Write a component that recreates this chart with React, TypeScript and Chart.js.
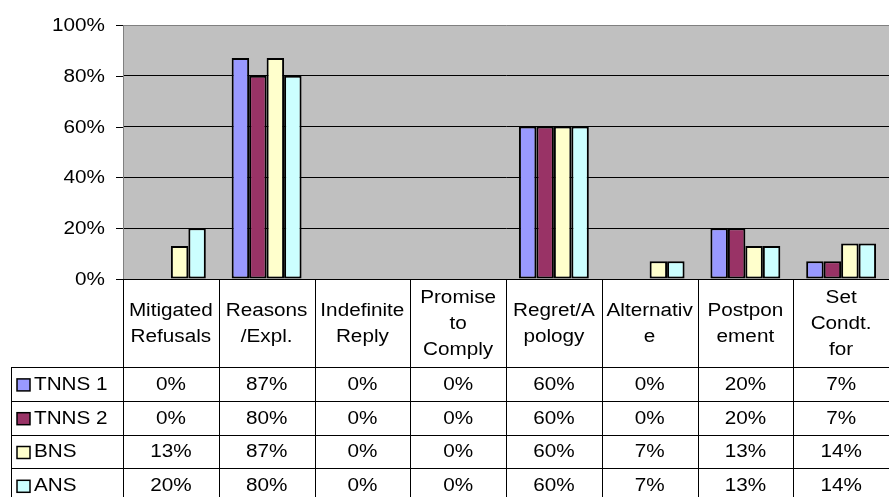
import React, { useEffect, useRef } from "react";
import { Chart, registerables } from "chart.js";

Chart.register(...registerables);

const categories: string[][] = [
  ["Mitigated", "Refusals"],
  ["Reasons", "/Expl."],
  ["Indefinite", "Reply"],
  ["Promise", "to", "Comply"],
  ["Regret/A", "pology"],
  ["Alternativ", "e"],
  ["Postpon", "ement"],
  ["Set", "Condt.", "for"],
];
const seriesNames = ["TNNS 1", "TNNS 2", "BNS", "ANS"];
const tnns1 = [0, 87, 0, 0, 60, 0, 20, 7];
const tnns2 = [0, 80, 0, 0, 60, 0, 20, 7];
const bns = [13, 87, 0, 0, 60, 7, 13, 14];
const ans = [20, 80, 0, 0, 60, 7, 13, 14];
const seriesColors = ["#9999FF", "#993366", "#FFFFCC", "#CCFFFF"];
const yTicks = [0, 20, 40, 60, 80, 100];

const W = 889;
const H = 497;
const FONT = "18px 'Liberation Sans', Arial, sans-serif";
const SX = 1.15;

function drawText(ctx: CanvasRenderingContext2D, text: string, x: number, y: number, align: CanvasTextAlign) {
  ctx.save();
  ctx.translate(x, y);
  ctx.scale(SX, 1);
  ctx.textAlign = align;
  ctx.textBaseline = "middle";
  ctx.fillText(text, 0, 0);
  ctx.restore();
}

const tablePlugin = {
  id: "tablePlugin",
  beforeDraw(chart: any) {
    const ctx: CanvasRenderingContext2D = chart.ctx;
    const a = chart.chartArea;
    ctx.save();
    ctx.fillStyle = "#FFFFFF";
    ctx.fillRect(0, 0, chart.width, chart.height);
    ctx.fillStyle = "#C0C0C0";
    ctx.fillRect(a.left, a.top, a.right - a.left, a.bottom - a.top);
    ctx.restore();
  },
  afterDraw(chart: any) {
    const ctx: CanvasRenderingContext2D = chart.ctx;
    const a = chart.chartArea;
    const yScale = chart.scales.y;
    const n = categories.length;
    const catW = (a.right - a.left) / n;
    ctx.save();
    ctx.font = FONT;
    ctx.fillStyle = "#000";
    ctx.strokeStyle = "#000";
    ctx.lineWidth = 1;

    // y-axis labels and tick marks
    yTicks.forEach((v) => {
      const y = Math.round(yScale.getPixelForValue(v)) + 0.5;
      ctx.beginPath();
      ctx.moveTo(a.left - 7, y);
      ctx.lineTo(a.left, y);
      ctx.stroke();
      drawText(ctx, v + "%", 105, y + 1, "right");
    });

    // x axis line
    ctx.beginPath();
    ctx.moveTo(a.left, Math.round(a.bottom) + 0.5);
    ctx.lineTo(a.right, Math.round(a.bottom) + 0.5);
    ctx.stroke();

    // table geometry
    const headTop = a.bottom;
    const rowTop = 367;
    const rowH = 33.8;
    const legendLeft = 11;

    // vertical lines
    for (let i = 0; i <= n; i++) {
      const x = Math.round(a.left + i * catW) + 0.5;
      ctx.beginPath();
      ctx.moveTo(x, headTop);
      ctx.lineTo(x, H);
      ctx.stroke();
    }
    ctx.beginPath();
    ctx.moveTo(legendLeft + 0.5, rowTop);
    ctx.lineTo(legendLeft + 0.5, H);
    ctx.stroke();

    // horizontal lines
    for (let r = 0; r < 4; r++) {
      const y = Math.round(rowTop + r * rowH) + 0.5;
      ctx.beginPath();
      ctx.moveTo(legendLeft, y);
      ctx.lineTo(W, y);
      ctx.stroke();
    }

    // header labels
    const headMid = (headTop + rowTop) / 2;
    categories.forEach((lines, i) => {
      const cx = a.left + (i + 0.5) * catW;
      const lh = 26;
      const start = headMid - ((lines.length - 1) * lh) / 2;
      lines.forEach((t, k) => drawText(ctx, t, cx, start + k * lh + 1, "center"));
    });

    // rows
    chart.data.datasets.forEach((ds: any, r: number) => {
      const cy = rowTop + r * rowH + rowH / 2 + 1;
      ctx.fillStyle = ds.backgroundColor;
      ctx.fillRect(17, cy - 6, 13, 12);
      ctx.strokeStyle = "#000";
      ctx.lineWidth = 1.5;
      ctx.strokeRect(17, cy - 6, 13, 12);
      ctx.lineWidth = 1;
      ctx.fillStyle = "#000";
      drawText(ctx, ds.label, 34, cy, "left");
      ds.data.forEach((v: number, i: number) => {
        const cx = a.left + (i + 0.5) * catW;
        drawText(ctx, v + "%", cx, cy, "center");
      });
    });
    ctx.restore();
  },
};

export default function App() {
  const ref = useRef<HTMLCanvasElement | null>(null);
  useEffect(() => {
    if (!ref.current) return;
    const data = [tnns1, tnns2, bns, ans];
    const chart = new Chart(ref.current, {
      type: "bar",
      data: {
        labels: categories.map((c) => c.join(" ")),
        datasets: seriesNames.map((name, i) => ({
          label: name,
          data: data[i],
          backgroundColor: seriesColors[i],
          borderColor: "#000",
          borderWidth: 2,
          borderSkipped: false,
          categoryPercentage: 0.73,
          barPercentage: 1,
        })),
      },
      options: {
        animation: false,
        responsive: false,
        devicePixelRatio: 1,
        layout: { padding: { top: 25, bottom: 218, left: 0, right: 0 } },
        plugins: { legend: { display: false }, tooltip: { enabled: false } },
        scales: {
          x: { display: false },
          y: {
            min: 0,
            max: 100,
            ticks: { display: false, stepSize: 20 },
            grid: {
              drawTicks: false,
              color: (c: any) => (c.tick && c.tick.value === 100 ? "#808080" : "#000"),
              lineWidth: 1,
            },
            border: { display: true, color: "#808080", width: 1 },
            afterFit: (s: any) => {
              s.width = 123;
            },
          },
        },
      },
      plugins: [tablePlugin],
    } as any);
    return () => chart.destroy();
  }, []);
  return (
    <div style={{ position: "fixed", left: 0, top: 0, width: W, height: H }}>
      <canvas ref={ref} width={W} height={H} style={{ display: "block" }} />
    </div>
  );
}
